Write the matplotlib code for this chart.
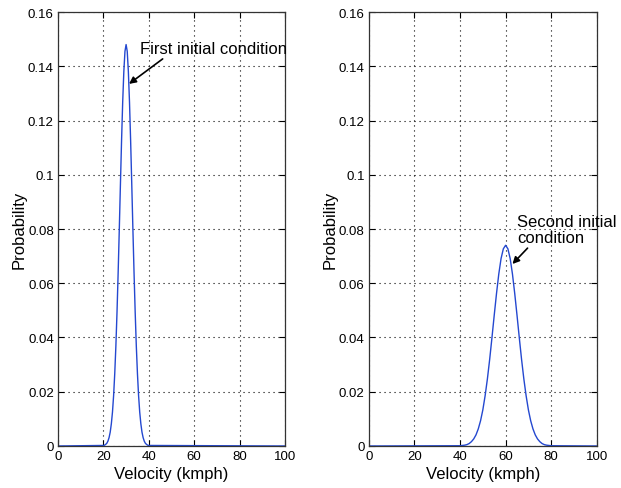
import matplotlib
matplotlib.use('Agg')
import matplotlib.pyplot as plt
from matplotlib.ticker import FuncFormatter

plt.rcParams['font.family'] = ['Liberation Sans', 'DejaVu Sans']

# velocity (kmph) and probability
v1 = [0, 20, 20.5, 21, 21.5, 22, 22.5, 23, 23.5, 24, 24.5, 25, 25.5, 26, 26.5,
      27, 27.5, 28, 28.5, 29, 29.5, 30, 30.5, 31, 31.5, 32, 32.5, 33, 33.5,
      34, 34.5, 35, 35.5, 36, 36.5, 37, 37.5, 38, 38.5, 39, 39.5, 40, 100]
p1 = [0, 0.0002, 0.0003, 0.0006, 0.0010, 0.0018, 0.0031, 0.0051, 0.0082,
      0.0125, 0.0186, 0.0267, 0.0369, 0.0494, 0.0639, 0.0798, 0.0964, 0.1125,
      0.1268, 0.1380, 0.1455, 0.1480, 0.1455, 0.1380, 0.1268, 0.1125, 0.0964,
      0.0798, 0.0639, 0.0494, 0.0369, 0.0267, 0.0186, 0.0125, 0.0082, 0.0051,
      0.0031, 0.0018, 0.0010, 0.0006, 0.0003, 0.0002, 0]

v2 = [0, 40, 42, 43, 44, 45, 46, 47, 48, 49, 50, 51, 52, 53, 54, 55, 56, 57,
      58, 59, 60, 61, 62, 63, 64, 65, 66, 67, 68, 69, 70, 71, 72, 73, 74, 75,
      76, 77, 78, 80, 100]
p2 = [0, 0.0001, 0.0003, 0.0005, 0.0009, 0.0016, 0.0026, 0.0041, 0.0063,
      0.0093, 0.0133, 0.0185, 0.0247, 0.0319, 0.0399, 0.0482, 0.0562, 0.0634,
      0.0691, 0.0727, 0.0740, 0.0727, 0.0691, 0.0634, 0.0562, 0.0482, 0.0399,
      0.0319, 0.0247, 0.0185, 0.0133, 0.0093, 0.0063, 0.0041, 0.0026, 0.0016,
      0.0009, 0.0005, 0.0003, 0.0001, 0]

xticks = [0, 20, 40, 60, 80, 100]
yticks = [0, 0.02, 0.04, 0.06, 0.08, 0.1, 0.12, 0.14, 0.16]

fig = plt.figure(figsize=(6.21, 4.89), dpi=100)
ax1 = fig.add_axes([0.0934, 0.0859, 0.3655, 0.8875])
ax2 = fig.add_axes([0.594, 0.0859, 0.367, 0.8875])


def fmt(y, pos):
    return ('%g' % round(y, 4))


for ax, v, p in [(ax1, v1, p1), (ax2, v2, p2)]:
    ax.plot(v, p, color='#2448d0', lw=1.0)
    ax.set_xlim(0, 100)
    ax.set_ylim(0, 0.16)
    ax.set_xticks(xticks)
    ax.set_yticks(yticks)
    ax.yaxis.set_major_formatter(FuncFormatter(fmt))
    ax.grid(True, linestyle=(0, (1, 3.5)), color='black', lw=0.8)
    ax.tick_params(direction='in', top=True, right=True, labelsize=9.5,
                   length=4, pad=3)
    ax.set_xlabel('Velocity (kmph)', fontsize=12, labelpad=3)
    ax.set_ylabel('Probability', fontsize=12, labelpad=1)
    for s in ax.spines.values():
        s.set_linewidth(0.9)
        s.set_color('#333333')

ax1.annotate('First initial condition', xy=(31.3, 0.1335), xytext=(36.1, 0.1465),
             fontsize=12, va='center', ha='left',
             arrowprops=dict(arrowstyle='-|>', color='black', lw=1.2,
                             shrinkA=0, shrinkB=0, mutation_scale=10,
                             relpos=(0.18, 0.0)))
ax2.annotate('Second initial\ncondition', xy=(63.0, 0.0671), xytext=(64.9, 0.0857),
             fontsize=12, va='top', ha='left', linespacing=1.15,
             arrowprops=dict(arrowstyle='-|>', color='black', lw=1.2,
                             shrinkA=0, shrinkB=0, mutation_scale=10,
                             relpos=(0.15, 0.05)))

fig.savefig('out.png', dpi=100)
